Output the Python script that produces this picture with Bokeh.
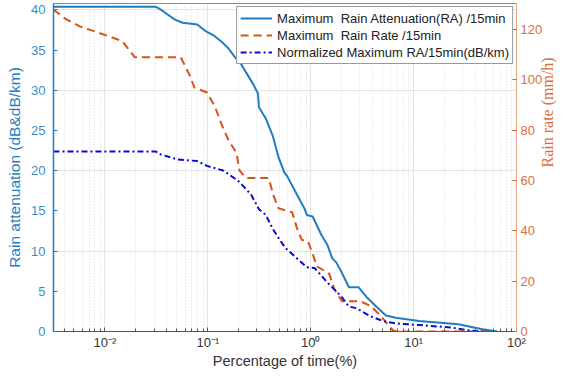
import math
from bokeh.plotting import figure
from bokeh.models import Range1d, LinearAxis, FixedTicker, Legend, LegendItem
from bokeh.embed import file_html
from bokeh.resources import INLINE

# ---- data ----
ra_x = [0.00316, 0.031, 0.0352, 0.041, 0.0479, 0.057, 0.079, 0.094, 0.115, 0.137,
        0.159, 0.1815, 0.212, 0.236, 0.275, 0.307, 0.314, 0.366, 0.426, 0.486,
        0.554, 0.592, 0.736, 0.877, 0.916, 1.044, 1.27, 1.45, 1.62, 1.77, 2.01,
        2.35, 2.92, 3.48, 4.33, 5.38, 6.7, 11.3, 27.2, 47.9, 65.2]
ra_y = [40.4, 40.4, 40.0, 39.4, 38.8, 38.4, 38.2, 37.4, 36.8, 36.0,
        35.2, 34.2, 33.2, 32.2, 30.8, 29.6, 27.9, 26.5, 24.4, 21.7,
        19.8, 19.3, 17.0, 15.2, 14.5, 14.3, 12.0, 10.8, 9.1, 8.6, 7.3,
        5.5, 5.5, 4.3, 3.1, 2.0, 1.7, 1.3, 0.9, 0.25, 0.0]

rr_x = [0.00316, 0.0041, 0.0057, 0.0089, 0.0147, 0.0164, 0.0195, 0.0546, 0.0664, 0.074,
        0.098, 0.117, 0.137, 0.159, 0.19, 0.203, 0.236, 0.39, 0.435, 0.486,
        0.66, 0.736, 0.82, 0.937, 1.044, 1.14, 1.51, 1.69, 2.01, 2.62,
        3.05, 3.88, 4.83, 6.28, 6.7, 60.0]
rr_y = [128, 124.4, 121.3, 118.6, 115.5, 113, 109, 109, 102, 97,
        95, 89.5, 82, 76, 71, 64, 61, 61, 54, 49,
        47.4, 41, 36.4, 36, 31, 26, 23, 17, 12, 12,
        12, 10, 6, 0.5, 0, 0]

nra_x = [0.00316, 0.031, 0.0352, 0.051, 0.079, 0.098, 0.143, 0.203, 0.264, 0.314,
         0.366, 0.426, 0.507, 0.566, 0.705, 0.916, 1.09, 1.45, 1.97, 2.35,
         2.79, 3.8, 5.04, 6.7, 11.3, 23.3, 36.0, 47.9]
nra_y = [22.4, 22.4, 22.0, 21.4, 21.2, 20.6, 20.0, 18.6, 17.0, 15.2,
         14.5, 12.8, 11.3, 10.4, 9.3, 8.0, 7.9, 6.1, 4.4, 3.1,
         2.9, 1.9, 1.3, 1.0, 0.8, 0.5, 0.1, 0.0]

x_ticks = [0.01, 0.1, 1, 10, 100]
x_tick_labels = ["10\u207b\u00b2", "10\u207b\u00b9", "10\u2070", "10\u00b9", "10\u00b2"]
left_ticks = [0, 5, 10, 15, 20, 25, 30, 35, 40]
right_ticks = [0, 20, 40, 60, 80, 100, 120]

legend_labels = ["Maximum  Rain Attenuation(RA) /15min",
                 "Maximum  Rain Rate /15min",
                 "Normalized Maximum RA/15min(dB/km)"]

# ---- style ----
C_BLUE = "#1f7ec0"
C_ORANGE = "#D95319"
C_DBLUE = "#0a0ad0"
FONT = "Liberation Sans"

p = figure(width=567, height=371, x_axis_type="log",
           x_range=Range1d(10 ** -2.5, 100), y_range=Range1d(0, 40.8),
           output_backend="svg", toolbar_location=None,
           min_border_left=53, min_border_right=42, min_border_top=3, min_border_bottom=30)
p.extra_y_ranges = {"rate": Range1d(0, 130.4)}
p.outline_line_color = "#888888"
p.outline_line_width = 1
p.background_fill_color = "white"
p.border_fill_color = "white"

# grid
minor = []
for e in range(-3, 2):
    for k in range(2, 10):
        v = k * 10 ** e
        if 10 ** -2.5 <= v <= 100:
            minor.append(v)
p.xaxis.ticker = FixedTicker(ticks=x_ticks, minor_ticks=minor)
p.xgrid.ticker = FixedTicker(ticks=x_ticks, minor_ticks=minor)
p.xgrid.grid_line_color = "#e3e3e3"
p.xgrid.grid_line_width = 1
p.xgrid.minor_grid_line_color = "#dcdcdc"
p.xgrid.minor_grid_line_dash = "1 2"
p.ygrid.ticker = FixedTicker(ticks=[0, 10, 20, 30, 40])
p.ygrid.grid_line_color = "#e3e3e3"

# x axis
xa = p.xaxis[0]
xa.major_label_overrides = {0.01: x_tick_labels[0], 0.1: x_tick_labels[1], 1: x_tick_labels[2],
                            10: x_tick_labels[3], 100: x_tick_labels[4]}
xa.axis_label = "Percentage of time(%)"
xa.axis_label_text_font = FONT
xa.axis_label_text_font_size = "14.5px"
xa.axis_label_text_font_style = "normal"
xa.axis_label_text_color = "#333333"
xa.axis_label_standoff = 0
xa.major_label_text_font = FONT
xa.major_label_text_font_size = "13px"
xa.major_label_text_color = "#333333"
xa.major_label_standoff = 3
xa.major_tick_in = 4
xa.major_tick_out = 0
xa.minor_tick_in = 3
xa.minor_tick_out = 0
xa.axis_line_color = "#555555"
xa.major_tick_line_color = "#555555"
xa.minor_tick_line_color = "#555555"

# left axis
ya = p.yaxis[0]
ya.ticker = FixedTicker(ticks=left_ticks)
ya.axis_label = "Rain attenuation (dB&dB/km)"
ya.axis_label_text_font = FONT
ya.axis_label_text_font_size = "15.5px"
ya.axis_label_text_font_style = "normal"
ya.axis_label_text_color = C_BLUE
ya.axis_label_standoff = 5
ya.major_label_text_font = FONT
ya.major_label_text_font_size = "13px"
ya.major_label_text_color = "#3a8cc8"
ya.major_label_standoff = 8
ya.axis_line_color = C_BLUE
ya.axis_line_width = 1.5
ya.major_tick_line_color = C_BLUE
ya.major_tick_in = 4
ya.major_tick_out = 0
ya.minor_tick_line_color = None

# right axis
ra = LinearAxis(y_range_name="rate", ticker=FixedTicker(ticks=right_ticks))
ra.axis_label = "Rain rate (mm/h)"
ra.axis_label_text_font = "Liberation Serif"
ra.axis_label_text_font_size = "16px"
ra.axis_label_text_font_style = "normal"
ra.axis_label_text_color = "#d97040"
ra.axis_label_standoff = 2
ra.axis_label_orientation = math.pi / 2
ra.major_label_text_font = FONT
ra.major_label_text_font_size = "13px"
ra.major_label_text_color = "#d9703c"
ra.major_label_standoff = 4
ra.axis_line_color = "#e8a888"
ra.major_tick_line_color = C_ORANGE
ra.major_tick_in = 4
ra.major_tick_out = 0
ra.minor_tick_line_color = None
p.add_layout(ra, "right")

# series
r1 = p.line(ra_x, ra_y, line_color=C_BLUE, line_width=2)
r2 = p.line(rr_x, rr_y, line_color=C_ORANGE, line_width=2, line_dash="8 5",
            y_range_name="rate")
r3 = p.line(nra_x, nra_y, line_color=C_DBLUE, line_width=2, line_dash="6 3 2 3")

legend = Legend(items=[LegendItem(label=legend_labels[0], renderers=[r1]),
                       LegendItem(label=legend_labels[1], renderers=[r2]),
                       LegendItem(label=legend_labels[2], renderers=[r3])],
                location="top_right")
legend.label_text_font = FONT
legend.label_text_font_size = "13px"
legend.label_text_color = "#222222"
legend.border_line_color = "#333333"
legend.border_line_width = 1
legend.background_fill_color = "white"
legend.background_fill_alpha = 1
legend.padding = 3
legend.margin = 3
legend.spacing = 1
legend.label_height = 16
legend.glyph_height = 16
legend.glyph_width = 32
legend.label_standoff = 5
p.add_layout(legend, "center")

open("out.html", "w").write(file_html(p, INLINE))
